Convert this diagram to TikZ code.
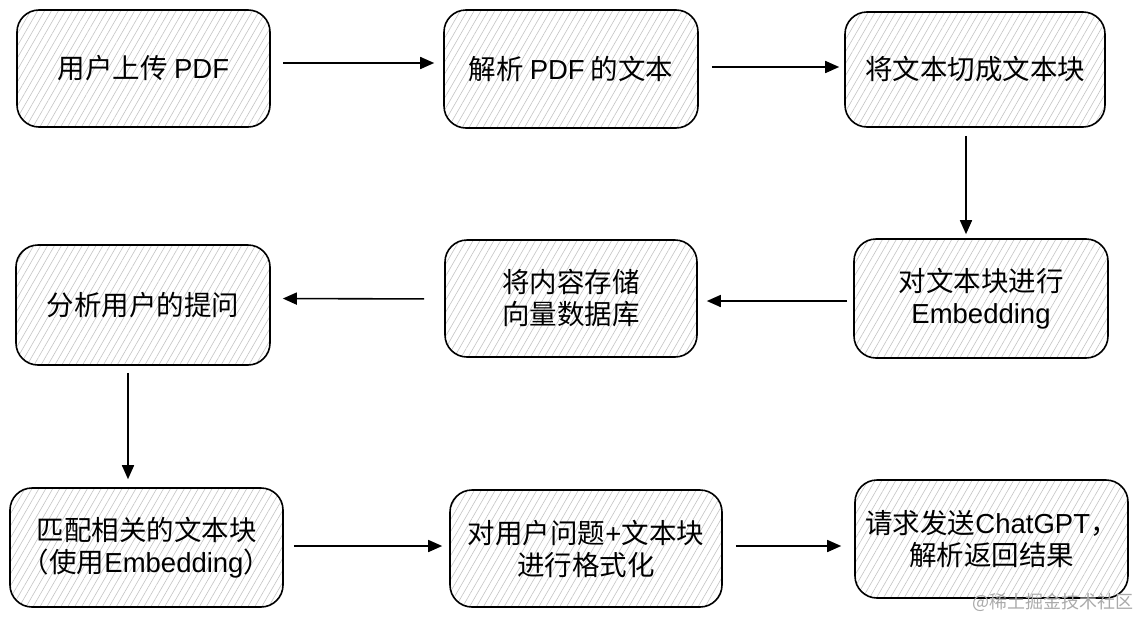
\documentclass[tikz,border=0pt]{standalone}
\usepackage{fontspec}
\setmainfont{Noto Sans CJK SC}
\newfontfamily\latinfont{Liberation Sans}
\newcommand{\lat}[1]{{\latinfont #1}}
\usetikzlibrary{arrows.meta,patterns.meta}
\definecolor{hatchGray}{RGB}{195,195,195}
\definecolor{markGray}{RGB}{170,170,170}

\begin{document}
\begin{tikzpicture}[
  x=1pt, y=-1pt,
  stepbox/.style={draw, line width=1.6pt, rounded corners=22pt, align=center,
    inner sep=0pt, font=\fontsize{27.5}{32}\selectfont,
    pattern={Lines[angle=60,distance=6pt,line width=0.6pt]}, pattern color=hatchGray},
  arrow/.style={-{Triangle[length=14pt,width=12pt]}, line width=1.6pt}
]
  \useasboundingbox (0,0) rectangle (1139,616);

  % first row
  \node[stepbox, minimum width=253pt, minimum height=117pt] (upload) at (143.5,68.5) {用户上传 \lat{PDF}};
  \node[stepbox, minimum width=254pt, minimum height=118pt] (parse) at (571,69) {解析 \lat{PDF} 的文本};
  \node[stepbox, minimum width=260pt, minimum height=115pt] (split) at (975,69.5) {将文本切成文本块};

  % second row
  \node[stepbox, minimum width=254pt, minimum height=119pt] (embed) at (981,298.5) {对文本块进行\\\lat{Embedding}};
  \node[stepbox, minimum width=252pt, minimum height=117pt] (store) at (571,298.5) {将内容存储\\向量数据库};
  \node[stepbox, minimum width=254pt, minimum height=120pt] (question) at (143,305) {分析用户的提问};

  % third row
  \node[stepbox, minimum width=273pt, minimum height=119pt] (match) at (146.5,547.5) {匹配相关的文本块\\（使用\lat{Embedding}）};
  \node[stepbox, minimum width=272pt, minimum height=117pt] (format) at (586,548.5) {对用户问题\lat{+}文本块\\进行格式化};
  \node[stepbox, minimum width=273pt, minimum height=118pt] (request) at (991.5,539) {请求发送\lat{ChatGPT}，\\解析返回结果};

  \node[anchor=south east, inner sep=0pt, text=markGray, font=\fontsize{18}{20}\selectfont] (mark) at (1134,612) {@稀土掘金技术社区};

  \draw[arrow, shorten <=13pt, shorten >=9pt] ([yshift=5.5pt]upload.east) -- ([yshift=6pt]parse.west);
  \draw[arrow, shorten <=13pt, shorten >=5pt] ([yshift=2pt]parse.east) -- ([yshift=2.5pt]split.west);
  \draw[arrow, shorten <=8pt, shorten >=4pt] ([xshift=-9pt]split.south) -- ([xshift=-9pt]split.south |- embed.north);
  \draw[arrow, shorten <=6pt, shorten >=9pt] ([yshift=-2.5pt]embed.west) -- ([yshift=-2.5pt]store.east);
  \draw[arrow, shorten <=20pt, shorten >=12pt] ([yshift=-0.5pt]store.west) -- (store.west -| question.east);
  \draw[arrow, shorten <=7pt, shorten >=8pt] ([xshift=-15pt]question.south) -- ([xshift=-15pt]question.south |- match.north);
  \draw[arrow, shorten <=10pt, shorten >=7pt] ([yshift=1.5pt]match.east) -- ([yshift=1.5pt]match.east -| format.west);
  \draw[arrow, shorten <=13pt, shorten >=13pt] ([yshift=2.5pt]format.east) -- ([yshift=2.5pt]format.east -| request.west);
\end{tikzpicture}
\end{document}
